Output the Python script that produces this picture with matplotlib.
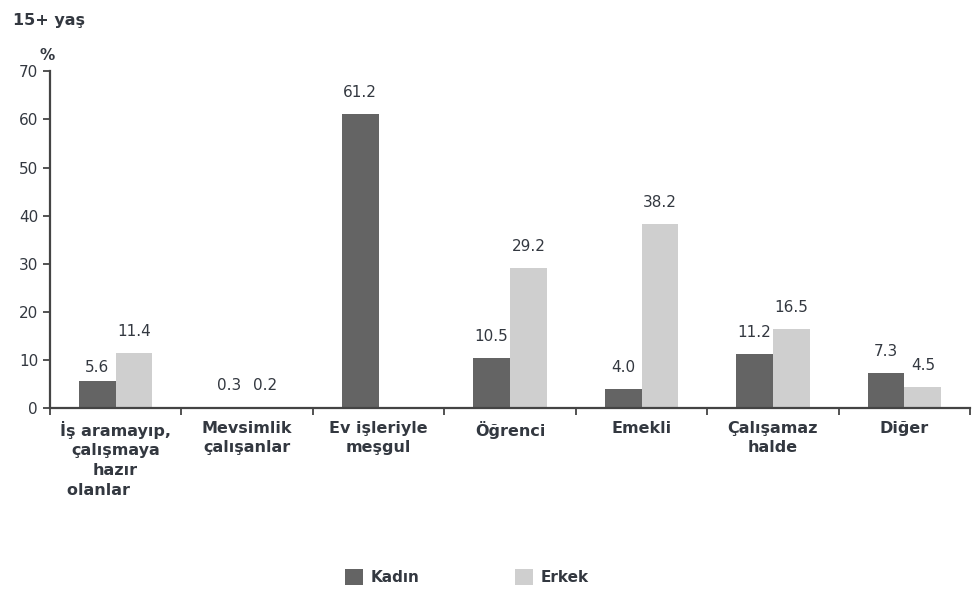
import numpy as np
import matplotlib
matplotlib.use("Agg")
import matplotlib.pyplot as plt

categories = ["İş aramayıp,\nçalışmaya\nhazır\nolanlar      ", "Mevsimlik\nçalışanlar",
              "Ev işleriyle\nmeşgul", "Öğrenci", "Emekli", "Çalışamaz\nhalde", "Diğer"]
kadin = [5.6, 0.3, 61.2, 10.5, 4.0, 11.2, 7.3]
erkek = [11.4, 0.2, None, 29.2, 38.2, 16.5, 4.5]
yticks = [0, 10, 20, 30, 40, 50, 60, 70]

TXT = "#333840"
DARK = "#646464"
LIGHT = "#cfcfcf"

plt.rcParams["font.family"] = ["DejaVu Sans"]
fig = plt.figure(figsize=(9.79, 5.89), dpi=100)
ax = fig.add_axes([0.051, 0.307, 0.940, 0.572])

x = np.arange(len(categories))
w = 0.28
kv = np.array(kadin, dtype=float)
ev = np.array([np.nan if v is None else v for v in erkek], dtype=float)

ax.bar(x - w / 2, kv, w, color=DARK, label="Kadın")
ax.bar(x + w / 2, np.nan_to_num(ev), w, color=LIGHT, label="Erkek")

def put(xpos, val, off=14):
    ax.annotate(f"{val:.1f}", (xpos, val), xytext=(0, off), textcoords="offset pixels",
                ha="center", va="bottom", fontsize=11, color=TXT)

for i in range(len(categories)):
    put(x[i] - w / 2, kv[i], 6 if i == 0 else 14)
    if not np.isnan(ev[i]):
        put(x[i] + w / 2, ev[i])

ax.set_xlim(-0.5, len(categories) - 0.5)
ax.set_ylim(0, 70)
ax.set_yticks(yticks)
ax.tick_params(axis="y", labelsize=11, labelcolor=TXT, color="#444444", length=5, width=1.3)
ax.set_xticks(x)
ax.set_xticklabels(categories, fontsize=11.5, fontweight="bold", color=TXT, linespacing=1.4)
ax.tick_params(axis="x", length=0, pad=9)
ax.set_xticks(np.arange(-0.5, len(categories)), minor=True)
ax.tick_params(axis="x", which="minor", length=5, width=1.3, color="#444444")

for s in ["top", "right"]:
    ax.spines[s].set_visible(False)
for s in ["left", "bottom"]:
    ax.spines[s].set_color("#444444")
    ax.spines[s].set_linewidth(1.6)

fig.text(0.013, 0.965, "15+ yaş", fontsize=11.5, fontweight="bold", color=TXT, va="center")
fig.text(0.040, 0.905, "%", fontsize=11, fontweight="bold", color=TXT, va="center")

fig.legend(loc="center", bbox_to_anchor=(0.477, 0.02), ncol=2, frameon=False,
           prop={"size": 11, "weight": "bold"}, labelcolor=TXT,
           handlelength=1.2, handleheight=1.2, handletextpad=0.5, columnspacing=6.2)

fig.savefig("out.png", dpi=100)
